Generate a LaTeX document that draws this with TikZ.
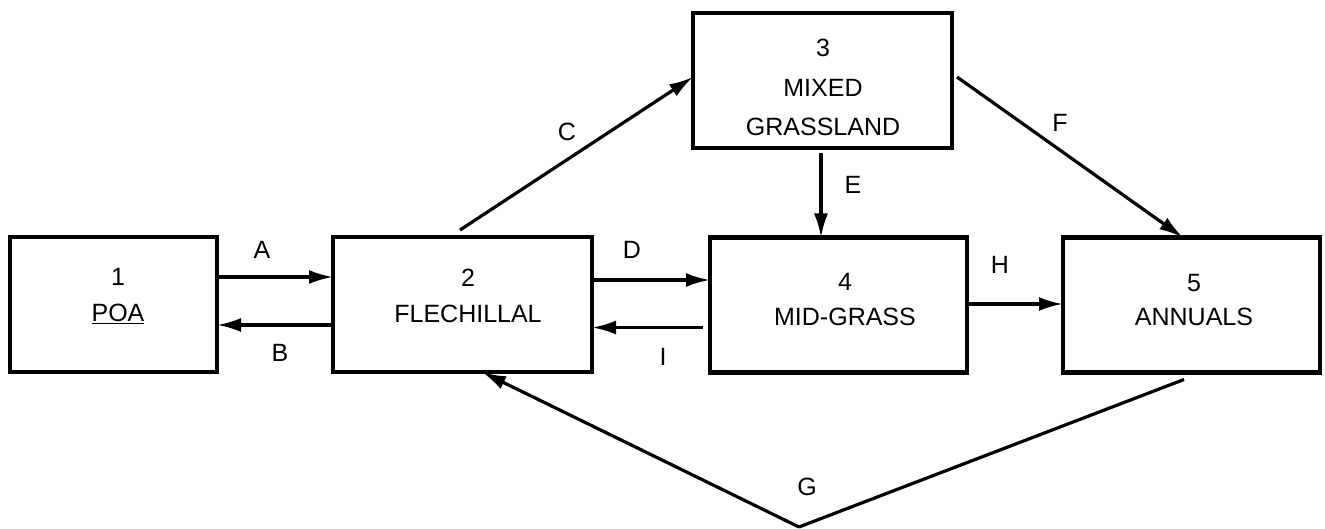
\documentclass[tikz,border=0pt]{standalone}
\usepackage{fontspec}
\setmainfont{Liberation Sans}
\usetikzlibrary{arrows.meta,calc}
\begin{document}
\begin{tikzpicture}[x=1pt,y=-1pt,
  box/.style={draw,line width=4.5pt,rectangle,minimum height=135pt,inner sep=0pt,outer sep=0pt},
  txt/.style={font=\fontsize{25}{36}\selectfont,align=center,anchor=north,inner sep=0pt},
  lbl/.style={font=\fontsize{25}{30}\selectfont,inner sep=0pt},
  arr/.style={line width=3.2pt,-{Latex[length=24pt,width=14pt]}},
  ln/.style={line width=3.2pt}]
\useasboundingbox (0,0) rectangle (1325,529);
\fill[white] (0,0) rectangle (1325,529);
% boxes
\node[box,minimum width=207pt] (n1) at (113.5,304.5) {};
\node[box,minimum width=259pt] (n2) at (462.5,304.5) {};
\node[box,minimum width=259pt] (n3) at (822.5,80.5) {};
\node[box,minimum width=257pt] (n4) at (838.5,305) {};
\node[box,minimum width=257pt] (n5) at (1191.5,305) {};
% box texts
\node[txt] (t1) at (118,268) {1\\\underline{POA}};
\node[txt] (t2) at (468,269) {2\\FLECHILLAL};
\node[txt,font=\fontsize{25}{39.5}\selectfont] (t3) at (823,39) {3\\MIXED\\GRASSLAND};
\node[txt,font=\fontsize{25}{35}\selectfont] (t4) at (845,273) {4\\MID-GRASS};
\node[txt,font=\fontsize{25}{34}\selectfont] (t5) at (1194,274) {5\\ANNUALS};
% connectors
\draw[arr] ([yshift=27.5pt]n1.east) coordinate (a1) -- (a1 -| n2.west);
\draw[arr] ([yshift=-20.5pt,xshift=-2pt]n2.west) coordinate (b1) -- (b1 -| n1.east);
\draw[arr] ([yshift=24.5pt]n2.east) coordinate (d1) -- (d1 -| n4.west);
\draw[arr] ([yshift=-22.5pt,xshift=-7pt]n4.west) coordinate (i1) -- (i1 -| n2.east);
\draw[arr] ([yshift=1pt]n4.east) coordinate (h1) -- (h1 -| n5.west);
\draw[arr] ([xshift=-2.5pt,yshift=7pt]n2.north) -- ([yshift=3.5pt]n3.west);
\draw[arr] ([xshift=-1.5pt,yshift=-5pt]n3.south) coordinate (e1) -- (e1 |- n4.north);
\draw[arr] ([xshift=5pt,yshift=3.5pt]n3.east) -- ([xshift=-8.5pt]n5.north);
\coordinate (gv) at (799,527);
\draw[ln] ([xshift=-7.5pt,yshift=-7pt]n5.south) -- (gv);
\draw[arr] (gv) -- ([xshift=19.5pt]n2.south);
% labels
\node[lbl] (lA) at (262,250) {A};
\node[lbl] (lB) at (280,353) {B};
\node[lbl] (lC) at (567,132) {C};
\node[lbl] (lD) at (632,250) {D};
\node[lbl] (lE) at (853,185) {E};
\node[lbl] (lF) at (1060,123) {F};
\node[lbl] (lG) at (807,487) {G};
\node[lbl] (lH) at (1000,265) {H};
\node[lbl] (lI) at (663,357) {I};
\end{tikzpicture}
\end{document}
